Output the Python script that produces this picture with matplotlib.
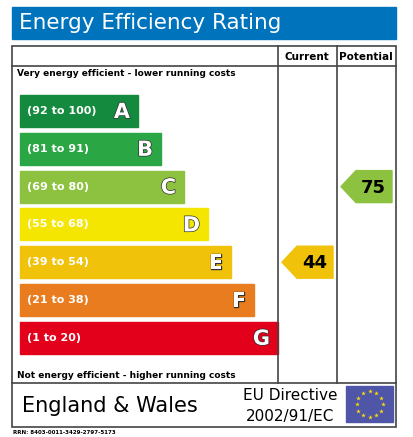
import matplotlib
matplotlib.use("Agg")
import matplotlib.pyplot as plt
import matplotlib.patheffects as pe
from matplotlib.patches import Rectangle, Polygon
import numpy as np

bands = ["A", "B", "C", "D", "E", "F", "G"]
ranges = ["(92 to 100)", "(81 to 91)", "(69 to 80)", "(55 to 68)", "(39 to 54)", "(21 to 38)", "(1 to 20)"]
colors = ["#138a3d", "#2aa645", "#8cc23f", "#f4e600", "#f0c20a", "#e97c1f", "#e2001a"]
current = 44
potential = 75
current_band = "E"
potential_band = "C"

fig = plt.figure(figsize=(4.13, 4.37), dpi=100)
ax = fig.add_axes([0, 0, 1, 1])
ax.set_xlim(0, 413)
ax.set_ylim(437, 0)
ax.axis("off")

ax.add_patch(Rectangle((12, 7), 384, 32, color="#0073bd"))
ax.text(19, 23, "Energy Efficiency Rating", color="white", fontsize=15.5, va="center", ha="left")

lw = 1.2
ax.add_patch(Rectangle((12, 46), 384, 381, fill=False, ec="#444", lw=lw))
ax.plot([12, 396], [66, 66], color="#444", lw=lw)
ax.plot([12, 396], [383, 383], color="#444", lw=lw)
for x in (278, 337):
    ax.plot([x, x], [46, 383], color="#444", lw=lw)
ax.text(307, 57, "Current", fontsize=7.5, fontweight="bold", ha="center", va="center")
ax.text(366, 57, "Potential", fontsize=7.5, fontweight="bold", ha="center", va="center")
ax.text(17, 73, "Very energy efficient - lower running costs", fontsize=6.5, fontweight="bold", va="center")
ax.text(17, 376, "Not energy efficient - higher running costs", fontsize=6.5, fontweight="bold", va="center")

top0, pitch, h = 95, 37.8, 32
widths = [118, 141, 164, 188, 211, 234, 258]
for i, (b, r, c) in enumerate(zip(bands, ranges, colors)):
    y = top0 + i * pitch
    ax.add_patch(Rectangle((20, y), widths[i], h, color=c))
    ax.text(27, y + h / 2, r, color="white", fontsize=8, fontweight="bold", va="center")
    ax.text(20 + widths[i] - 8, y + h / 2 + 1, b, color="white", fontsize=15, fontweight="bold",
            va="center", ha="right", path_effects=[pe.withStroke(linewidth=1.0, foreground="#333")])

def arrow(x0, x1, band, val):
    i = bands.index(band)
    y = top0 + i * pitch
    pts = [(x0, y + h / 2), (x0 + 15, y), (x1, y), (x1, y + h), (x0 + 15, y + h)]
    ax.add_patch(Polygon(pts, color=colors[i]))
    ax.text((x0 + x1) / 2 + 7, y + h / 2 + 1, str(val), fontsize=13, fontweight="bold", ha="center", va="center")

arrow(282, 333, current_band, current)
arrow(341, 392, potential_band, potential)

ax.text(22, 406, "England & Wales", fontsize=15, va="center")
ax.text(290, 396, "EU Directive", fontsize=11, ha="center", va="center")
ax.text(290, 417, "2002/91/EC", fontsize=11, ha="center", va="center")
ax.add_patch(Rectangle((346, 386), 47, 36, color="#4f56a8"))
ang = np.linspace(0, 2 * np.pi, 13)[:-1]
ax.scatter(369.5 + 13 * np.cos(ang), 404 + 13 * np.sin(ang), marker="*", s=12, color="#ffdd00", lw=0)
ax.text(13, 433, "RRN: 8403-0011-3429-2797-5173", fontsize=4, fontweight="bold", va="center")

fig.savefig("out.png", dpi=100)
